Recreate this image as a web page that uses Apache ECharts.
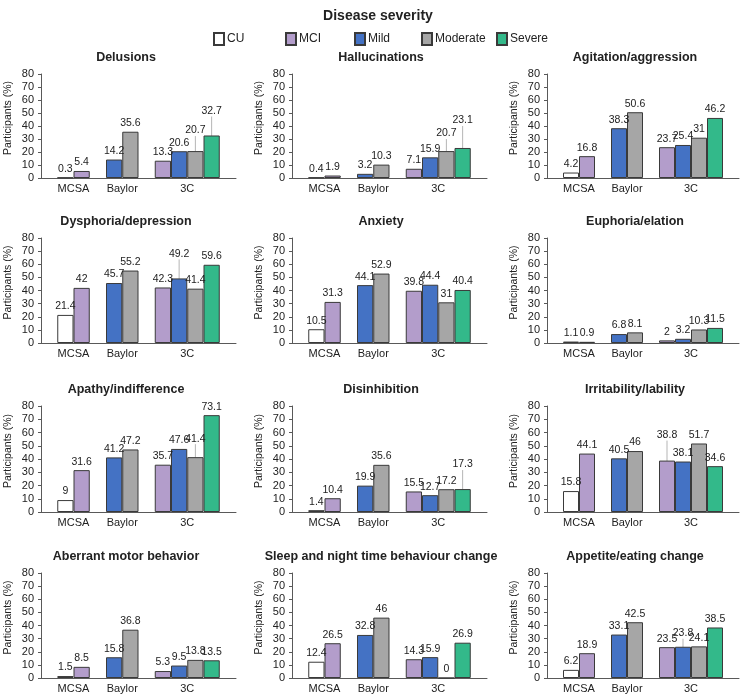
<!DOCTYPE html>
<html>
<head>
<meta charset="utf-8">
<script src="https://cdn.jsdelivr.net/npm/echarts@6/dist/echarts.min.js"></script>
<style>
html,body{margin:0;padding:0;background:#fff;}
#chart{width:742px;height:695px;}
</style>
</head>
<body>
<div id="chart"></div>
<script>
// ---------- DATA ----------
const mainTitle = 'Disease severity';
const severities = ['CU', 'MCI', 'Mild', 'Moderate', 'Severe'];
const cohorts = ['MCSA', 'Baylor', '3C'];
const panelTitles = [
  'Delusions', 'Hallucinations', 'Agitation/aggression',
  'Dysphoria/depression', 'Anxiety', 'Euphoria/elation',
  'Apathy/indifference', 'Disinhibition', 'Irritability/lability',
  'Aberrant motor behavior', 'Sleep and night time behaviour change', 'Appetite/eating change'
];
// MCSA: [CU, MCI]
const mcsaValues = [
  [0.3, 5.4], [0.4, 1.9], [4.2, 16.8],
  [21.4, 42], [10.5, 31.3], [1.1, 0.9],
  [9, 31.6], [1.4, 10.4], [15.8, 44.1],
  [1.5, 8.5], [12.4, 26.5], [6.2, 18.9]
];
// Baylor: [Mild, Moderate]
const baylorValues = [
  [14.2, 35.6], [3.2, 10.3], [38.3, 50.6],
  [45.7, 55.2], [44.1, 52.9], [6.8, 8.1],
  [41.2, 47.2], [19.9, 35.6], [40.5, 46],
  [15.8, 36.8], [32.8, 46], [33.1, 42.5]
];
// 3C: [MCI, Mild, Moderate, Severe]
const threeCValues = [
  [13.3, 20.6, 20.7, 32.7], [7.1, 15.9, 20.7, 23.1], [23.7, 25.4, 31, 46.2],
  [42.3, 49.2, 41.4, 59.6], [39.8, 44.4, 31, 40.4], [2, 3.2, 10.3, 11.5],
  [35.7, 47.6, 41.4, 73.1], [15.5, 12.7, 17.2, 17.3], [38.8, 38.1, 51.7, 34.6],
  [5.3, 9.5, 13.8, 13.5], [14.3, 15.9, 0, 26.9], [23.5, 23.8, 24.1, 38.5]
];
const yAxisName = 'Participants (%)';
const yMin = 0, yMax = 80, yStep = 10;

// ---------- STYLE / LAYOUT ----------
const colors = { CU: '#ffffff', MCI: '#b39dcb', Mild: '#4472c4', Moderate: '#a6a6a6', Severe: '#33b98a' };
const borderCol = '#3a3a3a';
const colLeft = [41, 292, 547];
const colWidth = 195;
const titleCenter = [121, 376, 630];
const rowTop = [74, 238, 406, 573];
const rowHeight = [104, 105, 106, 105];
const legendLeft = { CU: 208, MCI: 280, Mild: 349, Moderate: 416, Severe: 491 };
// label lifts (px) for displaced labels with leader lines: panelIndex -> {slot: px}
const labelLifts = {
  0: { 9: 12, 10: 16 },
  1: { 9: 9, 10: 19 },
  3: { 8: 16 },
  6: { 9: 10 },
  7: { 10: 16 },
  8: { 7: 17 },
  11: { 8: 5 }
};
// slot layout: each bar sits in its own slot, with blank slots between cohorts
const slots = [
  null, ['MCSA', 'CU'], ['MCSA', 'MCI'], null,
  ['Baylor', 'Mild'], ['Baylor', 'Moderate'], null,
  ['3C', 'MCI'], ['3C', 'Mild'], ['3C', 'Moderate'], ['3C', 'Severe'], null
];
// cohort label positions on half-slot axis (25 points)
const cohortLabelPoint = { MCSA: 4, Baylor: 10, '3C': 18 };

const FONT = '"Liberation Sans", Arial, sans-serif';
const txt = '#222';

function valueFor(p, cohort, sev) {
  if (cohort === 'MCSA') return mcsaValues[p][['CU', 'MCI'].indexOf(sev)];
  if (cohort === 'Baylor') return baylorValues[p][['Mild', 'Moderate'].indexOf(sev)];
  return threeCValues[p][['MCI', 'Mild', 'Moderate', 'Severe'].indexOf(sev)];
}

const grid = [], xAxis = [], yAxis = [], series = [], title = [];
title.push({
  text: mainTitle, left: 373, top: 4, textAlign: 'center',
  textStyle: { fontFamily: FONT, fontSize: 14, fontWeight: 'bold', color: txt }
});

const halfSlotCats = [];
for (let i = 0; i < 25; i++) halfSlotCats.push(String(i));

for (let p = 0; p < 12; p++) {
  const r = Math.floor(p / 3), c = p % 3;
  grid.push({ left: colLeft[c], top: rowTop[r], width: colWidth, height: rowHeight[r] });
  title.push({
    text: panelTitles[p], left: titleCenter[c], top: rowTop[r] - 28, textAlign: 'center',
    textStyle: { fontFamily: FONT, fontSize: 12.5, fontWeight: 'bold', color: txt }
  });
  // slot axis
  xAxis.push({
    type: 'category', gridIndex: p, data: slots.map((s, i) => String(i)),
    axisLine: { show: true, lineStyle: { color: '#595959', width: 1 } },
    axisTick: { show: false }, axisLabel: { show: false }, splitLine: { show: false }
  });
  // cohort label axis
  xAxis.push({
    type: 'category', gridIndex: p, position: 'bottom', boundaryGap: false,
    data: halfSlotCats,
    axisLine: { show: false }, axisTick: { show: false }, splitLine: { show: false },
    axisLabel: {
      interval: 0, margin: 5, fontFamily: FONT, fontSize: 11, color: txt,
      formatter: function (v) {
        const i = +v;
        for (const k of cohorts) if (cohortLabelPoint[k] === i) return k;
        return '';
      }
    }
  });
  yAxis.push({
    type: 'value', gridIndex: p, min: yMin, max: yMax, interval: yStep,
    name: yAxisName, nameLocation: 'middle', nameGap: 27, nameRotate: 90,
    nameTextStyle: { fontFamily: FONT, fontSize: 10.5, color: txt, padding: [0, 0, 0, 16] },
    axisLine: { show: true, lineStyle: { color: '#595959', width: 1 } },
    axisTick: { show: true, length: 3, lineStyle: { color: '#595959' } },
    axisLabel: { fontFamily: FONT, fontSize: 11, color: txt, margin: 7 },
    splitLine: { show: false }
  });
  const lifts = labelLifts[p] || {};
  severities.forEach(sev => {
    const data = slots.map((s, i) => {
      if (!s || s[1] !== sev) return '-';
      const v = valueFor(p, s[0], sev);
      if (lifts[i]) return { value: v, labelLine: { show: true } };
      return v;
    });
    series.push({
      name: sev, type: 'bar', xAxisIndex: 2 * p, yAxisIndex: p,
      stack: 'g' + p, barWidth: '100%',
      data: data,
      itemStyle: { color: colors[sev], borderColor: borderCol, borderWidth: 1 },
      label: {
        show: true, position: 'top', distance: 3,
        fontFamily: FONT, fontSize: 10.5, color: txt
      },
      labelLine: { show: false, lineStyle: { color: '#b5b5b5', width: 1 } },
      labelLayout: function (params) {
        const l = lifts[params.dataIndex];
        return l ? { dy: -l } : {};
      },
      emphasis: { disabled: true },
      animation: false
    });
  });
}

const legend = severities.map(sev => ({
  data: [sev], left: legendLeft[sev], top: 27,
  itemWidth: 10, itemHeight: 12, itemGap: 0,
  textStyle: { fontFamily: FONT, fontSize: 12, color: txt, padding: [0, 0, 0, -2] },
  icon: 'rect', selectedMode: false
}));

const chart = echarts.init(document.getElementById('chart'), null, { renderer: 'canvas' });
chart.setOption({
  backgroundColor: '#ffffff',
  animation: false,
  title: title,
  legend: legend,
  grid: grid,
  xAxis: xAxis,
  yAxis: yAxis,
  series: series
});
</script>
</body>
</html>
